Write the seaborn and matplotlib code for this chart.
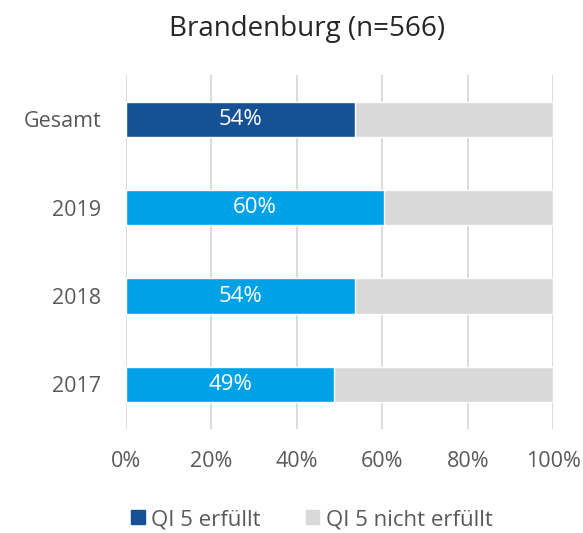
import pandas as pd
import matplotlib.pyplot as plt
import seaborn as sns
from matplotlib.patches import Patch

kategorien = ['Gesamt', '2019', '2018', '2017']
erfuellt = [53.6, 60.3, 53.6, 48.7]
labels = ['54%', '60%', '54%', '49%']
gesamt = [100, 100, 100, 100]

df = pd.DataFrame({'Jahr': kategorien, 'erfuellt': erfuellt, 'gesamt': gesamt})

sns.set_theme(style='white')
plt.rcParams['font.family'] = ['Open Sans', 'DejaVu Sans']

dunkelblau = '#165196'
hellblau = '#00a2e5'
grau = '#d9d9d9'
textfarbe = '#595959'

fig, ax = plt.subplots(figsize=(5.83, 5.33), dpi=100)
fig.subplots_adjust(left=0.216, right=0.949, top=0.859, bottom=0.196)

# grauer Hintergrund = 100%, darüber der erfüllte Anteil
sns.barplot(data=df, y='Jahr', x='gesamt', color=grau, width=0.4, ax=ax, zorder=2)
sns.barplot(data=df, y='Jahr', x='erfuellt', hue='Jahr', legend=False,
            palette=[dunkelblau, hellblau, hellblau, hellblau], width=0.4,
            ax=ax, zorder=3, saturation=1)

for i, (v, t) in enumerate(zip(erfuellt, labels)):
    ax.text(v / 2, i, t, ha='center', va='center', color='white', fontsize=16, zorder=4)

ax.set_xlim(0, 100)
ax.set_ylim(3.5, -0.5)
ax.set_xticks([0, 20, 40, 60, 80, 100])
ax.set_xticklabels(['0%', '20%', '40%', '60%', '80%', '100%'])
ax.xaxis.grid(True, color='#d9d9d9', linewidth=1.3, zorder=0)
ax.set_axisbelow(True)
for s in ax.spines.values():
    s.set_visible(False)
ax.tick_params(axis='both', length=0, labelsize=15.5, labelcolor=textfarbe)
ax.tick_params(axis='x', pad=16)
ax.tick_params(axis='y', pad=18)
ax.set_xlabel('')
ax.set_ylabel('')
fig.suptitle('Brandenburg (n=566)', x=0.527, y=0.972, va='top', fontsize=20, color='#262626')

handles = [Patch(color=dunkelblau, label='QI 5 erfüllt'),
           Patch(color=grau, label='QI 5 nicht erfüllt')]
leg = fig.legend(handles=handles, loc='center', ncol=2, frameon=False,
                 bbox_to_anchor=(0.535, 0.025), fontsize=16, handlelength=0.6,
                 handleheight=0.6, handletextpad=0.3, columnspacing=2.0)
for t in leg.get_texts():
    t.set_color(textfarbe)

plt.savefig('out.png')
